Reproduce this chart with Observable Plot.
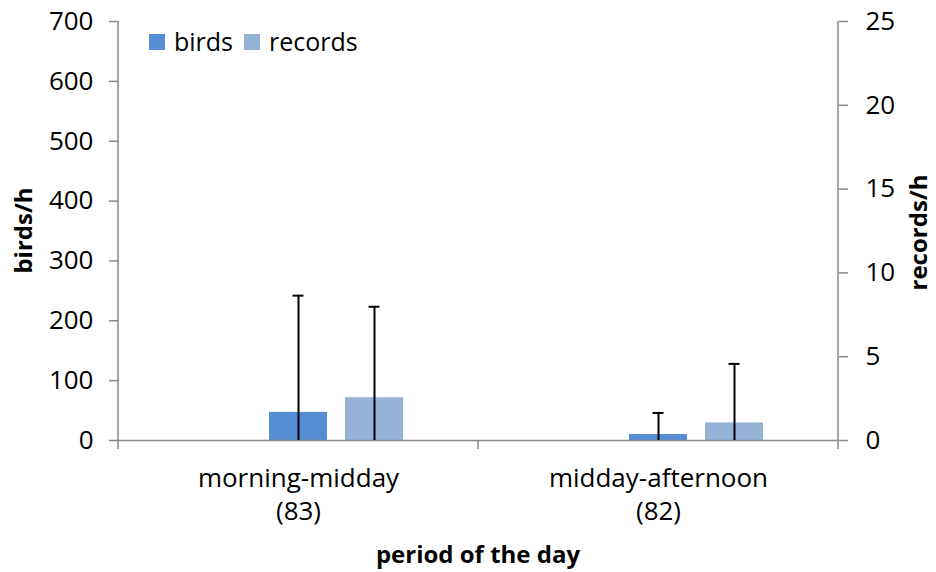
<!DOCTYPE html>
<html><head><meta charset="utf-8">
<script src="https://cdn.jsdelivr.net/npm/d3@7"></script>
<script src="https://cdn.jsdelivr.net/npm/@observablehq/plot@0.6"></script>
<style>
body{margin:0;background:#fff;}
#wrap{position:relative;width:936px;height:572px;font-family:"Open Sans",sans-serif;}
#legend{position:absolute;left:149px;top:29px;display:flex;align-items:center;font-size:25px;color:#000;line-height:1;}
#legend .it{display:flex;align-items:center;margin-right:11px;}
#legend .sw{width:16px;height:16px;display:inline-block;margin-right:9px;}
</style></head><body><div id="wrap"></div>
<script>
const categories = ["morning-midday", "midday-afternoon"];
const sampleSizes = [83, 82];
const birds = [47, 10];
const birdsErr = [195, 36];
const records = [2.55, 1.05];
const recordsErr = [5.43, 3.52];
const birdsTicks = [0, 100, 200, 300, 400, 500, 600, 700];
const recordsTicks = [0, 5, 10, 15, 20, 25];
const seriesNames = ["birds", "records"];
const colors = ["#558ED5", "#95B3D7"];
const yLabelLeft = "birds/h", yLabelRight = "records/h", xLabel = "period of the day";

const birdsMax = 700, recordsMax = 25, k = birdsMax / recordsMax;
const rows = [];
categories.forEach((c, i) => {
  rows.push({cat: c, series: "birds", v: birds[i], lo: Math.max(0, birds[i] - birdsErr[i]), hi: birds[i] + birdsErr[i]});
  rows.push({cat: c, series: "records", v: records[i] * k, lo: Math.max(0, records[i] - recordsErr[i]) * k, hi: (records[i] + recordsErr[i]) * k});
});

const axisGray = "#898989";
const plot = Plot.plot({
  width: 936, height: 572,
  marginTop: 21, marginBottom: 132, marginLeft: 118, marginRight: 98,
  style: {fontFamily: '"Open Sans", sans-serif', fontSize: "26px", color: "#000", background: "#fff"},
  fx: {domain: categories, padding: 0},
  x: {domain: ["", ...seriesNames], paddingInner: 0.234, paddingOuter: 0.955, axis: null},
  y: {domain: [0, birdsMax]},
  color: {domain: seriesNames, range: colors},
  marks: [
    Plot.barY(rows, {fx: "cat", x: "series", y: "v", fill: "series"}),
    Plot.ruleY([0], {stroke: axisGray, strokeWidth: 1.5}),
    Plot.ruleX(rows, {fx: "cat", x: "series", y1: "lo", y2: "hi", stroke: "#000", strokeWidth: 2}),
    Plot.tickY(rows, {fx: "cat", x: "series", y: "hi", stroke: "#000", strokeWidth: 2, insetLeft: 23.5, insetRight: 23.5}),
    Plot.axisY(birdsTicks, {anchor: "left", tickSize: 9, tickPadding: 16, stroke: axisGray, strokeWidth: 1.5, fill: "#000", label: null}),
    Plot.axisY(recordsTicks.map(d => d * k), {anchor: "right", tickSize: 9, tickPadding: 18, stroke: axisGray, strokeWidth: 1.5, fill: "#000", tickFormat: d => Math.round(d / k), label: null}),
    Plot.axisFx({anchor: "bottom", tickSize: 0, tickPadding: 28, fill: "#000", label: null}),
    Plot.axisFx({anchor: "bottom", tickSize: 0, tickPadding: 61, fill: "#000", tickFormat: d => `(${sampleSizes[categories.indexOf(d)]})`, label: null})
  ]
});

// axis lines and category boundary ticks, placed with the plot's own scales
const svg = d3.select(plot);
const fxS = plot.scale("fx"), yS = plot.scale("y");
const yb = yS.apply(0), yt = yS.apply(birdsMax);
const xl = fxS.range[0], xr = fxS.range[1];
const g = svg.append("g").attr("stroke", axisGray).attr("stroke-width", 1.5);
[xl, xr].forEach(x => g.append("line").attr("x1", x).attr("x2", x).attr("y1", yb).attr("y2", yt));
const bounds = [xl, ...categories.map(c => fxS.apply(c) + fxS.bandwidth)];
bounds.forEach(x => g.append("line").attr("x1", x).attr("x2", x).attr("y1", yb).attr("y2", yb + 9));

// axis titles (SVG text)
const yMid = (yb + yt) / 2;
const tg = svg.append("g").attr("font-weight", "bold").attr("font-size", 24).attr("fill", "#000").attr("text-anchor", "middle");
tg.append("text").attr("transform", `translate(32,${yMid}) rotate(-90)`).text(yLabelLeft);
tg.append("text").attr("transform", `translate(927,${yMid + 2}) rotate(-90)`).text(yLabelRight);
tg.append("text").attr("x", (xl + xr) / 2).attr("y", 563).text(xLabel);

const wrap = document.getElementById("wrap");
wrap.appendChild(plot);

// legend
const leg = document.createElement("div"); leg.id = "legend";
seriesNames.forEach((s, i) => {
  const it = document.createElement("span"); it.className = "it";
  const sw = document.createElement("span"); sw.className = "sw"; sw.style.background = colors[i];
  it.appendChild(sw); it.appendChild(document.createTextNode(s));
  leg.appendChild(it);
});
wrap.appendChild(leg);
</script></body></html>
